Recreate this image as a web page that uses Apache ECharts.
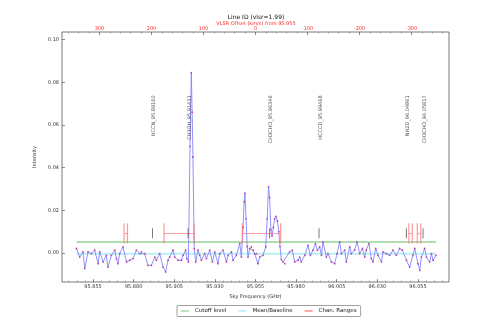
<!DOCTYPE html>
<html><head><meta charset="utf-8">
<script src="https://cdn.jsdelivr.net/npm/echarts@6/dist/echarts.min.js"></script>
<style>html,body{margin:0;padding:0;background:#fff}#chart{width:498px;height:332px}</style>
</head><body><div id="chart"></div>
<script>
// Spectrum channels: sky frequency (GHz) and intensity
const freqs = [
  95.8448,95.8468,95.8488,95.8499,95.8519,95.8540,95.8560,95.8581,95.8591,95.8612,
  95.8632,95.8642,95.8663,95.8684,95.8694,95.8704,95.8714,95.8735,95.8756,95.8776,
  95.8796,95.8817,95.8837,95.8848,95.8868,95.8888,95.8909,95.8930,95.8940,95.8960,
  95.8981,95.8997,95.9012,95.9022,95.9042,95.9053,95.9073,95.9094,95.9104,95.9120,
  95.9128,95.9137,95.9147,95.9155,95.9160,95.9165,95.9173,95.9182,95.9196,95.9207,
  95.9217,95.9237,95.9248,95.9268,95.9285,95.9299,95.9319,95.9330,95.9350,95.9371,
  95.9381,95.9402,95.9412,95.9432,95.9453,95.9463,95.9473,95.9480,95.9485,95.9492,
  95.9499,95.9504,95.9514,95.9525,95.9535,95.9545,95.9556,95.9565,95.9576,95.9596,
  95.9613,95.9622,95.9630,95.9637,95.9645,95.9652,95.9660,95.9668,95.9676,95.9685,
  95.9693,95.9701,95.9709,95.9719,95.9730,95.9760,95.9777,95.9791,95.9812,95.9822,
  95.9832,95.9853,95.9873,95.9888,95.9904,95.9919,95.9931,95.9945,95.9956,95.9965,
  95.9986,95.9996,96.0017,96.0037,96.0052,96.0068,96.0079,96.0099,96.0109,96.0130,
  96.0140,96.0160,96.0175,96.0191,96.0208,96.0222,96.0232,96.0248,96.0263,96.0273,
  96.0290,96.0304,96.0325,96.0335,96.0356,96.0376,96.0396,96.0417,96.0437,96.0454,
  96.0479,96.0499,96.0519,96.0530,96.0550,96.0561,96.0571,96.0591,96.0602,96.0622,
  96.0633,96.0643,96.0661
];
const intensity = [
  0.0021,-0.0019,0.0005,-0.0073,0.0005,-0.0003,0.0013,-0.0050,0.0005,-0.0042,
  -0.0011,-0.0066,-0.0011,0.0013,-0.0026,-0.0050,-0.0003,0.0028,-0.0042,-0.0034,
  -0.0026,0.0013,-0.0003,0.0005,-0.0003,-0.0058,-0.0058,-0.0019,-0.0034,-0.0003,
  -0.0066,-0.0089,-0.0034,-0.0019,0.0013,-0.0019,-0.0034,-0.0034,-0.0011,0.0013,
  -0.0026,-0.0042,0.0500,0.0845,0.0660,0.0450,0.0020,-0.0042,0.0013,-0.0011,
  -0.0034,-0.0003,-0.0026,0.0013,-0.0042,0.0005,-0.0050,-0.0003,0.0013,-0.0042,
  -0.0011,0.0005,-0.0034,-0.0011,0.0044,-0.0019,0.0120,0.0240,0.0280,0.0160,
  0.0030,-0.0019,0.0021,0.0028,0.0013,-0.0003,-0.0003,-0.0050,-0.0019,-0.0011,
  0.0028,0.0160,0.0310,0.0260,0.0110,0.0080,0.0120,0.0160,0.0172,0.0150,
  0.0100,0.0030,-0.0030,-0.0042,-0.0050,0.0005,0.0013,-0.0042,-0.0034,-0.0019,
  -0.0042,-0.0011,0.0036,-0.0011,0.0013,0.0044,0.0013,0.0028,-0.0011,0.0052,
  -0.0019,-0.0003,-0.0042,-0.0050,-0.0003,0.0052,-0.0003,0.0013,-0.0042,0.0028,
  -0.0003,0.0013,0.0052,-0.0003,0.0021,-0.0019,0.0013,0.0044,-0.0026,-0.0042,
  0.0021,-0.0011,-0.0042,0.0005,-0.0003,-0.0011,0.0013,-0.0011,0.0021,0.0013,
  -0.0034,-0.0066,-0.0011,0.0021,-0.0050,-0.0081,-0.0019,0.0021,-0.0019,-0.0042,
  -0.0003,-0.0034,-0.0011
];

// Detection levels
const cutoffLevel = 0.0052;
const baselineLevel = -0.0003;

// Channel ranges [start, end] in GHz, drawn as bracket bars
const chanRanges = [
  [95.8741, 95.8762], [95.8987, 95.9172], [95.9469, 95.9705],
  [96.0494, 96.0515], [96.0546, 96.0567]
];
const rangeLevel = 0.0091, rangeLow = 0.0045, rangeHigh = 0.0139;

// Identified lines
const lineIdFreqs = [95.8916, 95.9135, 95.9637, 95.9941, 96.0479, 96.0581];
const lineIdNames = ['HCCN_95.89160', 'CH3OH_95.91431', 'CH3CHO_95.96346',
                     'HCCCD_95.99468', 'NH2D_96.04861', 'CH3CHO_96.05817'];
const lineTickLow = 0.0069, lineTickHigh = 0.0116, lineLabelLevel = 0.0739;

// Axis ticks
const freqTicks = [95.855, 95.880, 95.905, 95.930, 95.955, 95.980, 96.005, 96.030, 96.055];
const velTicks = [-300, -200, -100, 0, 100, 200, 300];
const intensityTicks = [0, 0.02, 0.04, 0.06, 0.08, 0.10];

const restFreq = 95.955;
const vlsr = 1.99;
const C_KMS = 299792.458;
const freqMin = 95.8359, freqMax = 96.0741;
const yMin = -0.0136, yMax = 0.1036;

const velAtMin = C_KMS * (restFreq - freqMin) / restFreq;
const velAtMax = C_KMS * (restFreq - freqMax) / restFreq;

const freqMinor = [];
for (let k = 0; k <= 46; k++) freqMinor.push(+(95.840 + k * 0.005).toFixed(3));
const velMinor = [];
for (let v = -360; v <= 360; v += 20) velMinor.push(v);

const FONT = 'DejaVu Sans';
const spectrum = freqs.map((f, i) => [f, intensity[i]]);
const fFirst = freqs[0], fLast = freqs[freqs.length - 1];

const chart = echarts.init(document.getElementById('chart'), null, {renderer: 'canvas'});

const tinyLabel = {fontSize: 5, fontFamily: FONT, color: '#333'};
const noLine = {show: false, onZero: false};

chart.setOption({
  animation: false,
  backgroundColor: '#fff',
  textStyle: {fontFamily: FONT},
  title: [
    {text: 'Line ID (vlsr=' + vlsr + ')', left: 256, top: 14, padding: 0, textAlign: 'center',
     textStyle: {fontSize: 6, fontWeight: 'normal', color: '#111', fontFamily: FONT}},
    {text: 'VLSR Offset (km/s) from ' + restFreq, left: 256, top: 21.3, padding: 0, textAlign: 'center',
     textStyle: {fontSize: 5, fontWeight: 'normal', color: '#ff2a2a', fontFamily: FONT}}
  ],
  legend: {
    data: ['Cutoff level', 'Mean/Baseline', 'Chan. Ranges'],
    left: 177, top: 305.5, padding: [2.5, 4, 2.5, 4],
    itemWidth: 8, itemHeight: 1.5, itemGap: 12, icon: 'rect',
    borderColor: '#888', borderWidth: 0.8, borderRadius: 1,
    textStyle: {fontSize: 5.5, fontFamily: FONT, color: '#222', padding: [0, 0, 0, 1]}
  },
  grid: {left: 62, right: 49, top: 32, bottom: 50, show: true,
         borderColor: '#555', borderWidth: 0.8, backgroundColor: 'transparent'},
  xAxis: [
    {type: 'value', position: 'bottom', min: freqMin, max: freqMax,
     name: 'Sky Frequency (GHz)', nameLocation: 'middle', nameGap: 8,
     nameTextStyle: tinyLabel,
     axisLine: noLine,
     axisTick: {show: true, inside: true, length: 3, customValues: freqTicks, lineStyle: {color: '#444', width: 0.6}},
     axisLabel: {show: true, customValues: freqTicks, margin: 2.5, formatter: v => v.toFixed(3), ...tinyLabel},
     splitLine: {show: false}},
    {type: 'value', position: 'bottom', min: freqMin, max: freqMax,
     axisLine: noLine, axisLabel: {show: false}, splitLine: {show: false},
     axisTick: {show: true, inside: true, length: 1.5, customValues: freqMinor, lineStyle: {color: '#666', width: 0.5}}},
    {type: 'value', position: 'top', min: velAtMax, max: velAtMin, inverse: true,
     axisLine: noLine, splitLine: {show: false},
     axisTick: {show: true, inside: true, length: 3, customValues: velTicks, lineStyle: {color: '#444', width: 0.6}},
     axisLabel: {show: true, customValues: velTicks, margin: 1.2, fontSize: 5, fontFamily: FONT, color: '#ff2a2a'}},
    {type: 'value', position: 'top', min: velAtMax, max: velAtMin, inverse: true,
     axisLine: noLine, axisLabel: {show: false}, splitLine: {show: false},
     axisTick: {show: true, inside: true, length: 1.5, customValues: velMinor, lineStyle: {color: '#666', width: 0.5}}}
  ],
  yAxis: [
    {type: 'value', position: 'left', min: yMin, max: yMax,
     name: 'Intensity', nameLocation: 'middle', nameGap: 15, nameRotate: 90,
     nameTextStyle: tinyLabel,
     axisLine: noLine,
     axisTick: {show: true, inside: true, length: 3, customValues: intensityTicks, lineStyle: {color: '#444', width: 0.6}},
     axisLabel: {show: true, customValues: intensityTicks, margin: 3, formatter: v => v.toFixed(2), ...tinyLabel},
     splitLine: {show: false}}
  ],
  series: [
    {name: 'Cutoff level', type: 'line', symbol: 'none', z: 1,
     data: [[fFirst, cutoffLevel], [fLast, cutoffLevel]],
     itemStyle: {color: '#a6dca6'}, lineStyle: {color: '#a6dca6', width: 2, opacity: 0.9}},
    {name: 'Mean/Baseline', type: 'line', symbol: 'none', z: 1,
     data: [[fFirst, baselineLevel], [fLast, baselineLevel]],
     itemStyle: {color: '#b0eef4'}, lineStyle: {color: '#b0eef4', width: 2, opacity: 0.9}},
    {name: 'Spectrum', type: 'line', z: 3, data: spectrum,
     symbol: 'circle', symbolSize: 1.8, showSymbol: true,
     lineStyle: {color: '#8484ff', width: 0.9},
     itemStyle: {color: '#c040a8', borderWidth: 0}},
    {name: 'Chan. Ranges', type: 'custom', z: 4,
     data: chanRanges.map(r => [r[0], r[1], rangeLevel]),
     encode: {x: [0, 1], y: 2},
     itemStyle: {color: '#ff8a8a'},
     renderItem: function (params, api) {
       const f1 = api.value(0), f2 = api.value(1);
       const a = api.coord([f1, rangeLevel]), b = api.coord([f2, rangeLevel]);
       const a1 = api.coord([f1, rangeLow]), a2 = api.coord([f1, rangeHigh]);
       const b1 = api.coord([f2, rangeLow]), b2 = api.coord([f2, rangeHigh]);
       const st = {stroke: 'rgba(255,110,110,0.7)', lineWidth: 1.2};
       return {type: 'group', children: [
         {type: 'line', shape: {x1: a[0], y1: a[1], x2: b[0], y2: b[1]}, style: {stroke: 'rgba(255,110,110,0.85)', lineWidth: 0.8}},
         {type: 'line', shape: {x1: a1[0], y1: a1[1], x2: a2[0], y2: a2[1]}, style: st},
         {type: 'line', shape: {x1: b1[0], y1: b1[1], x2: b2[0], y2: b2[1]}, style: st}
       ]};
     }},
    {name: 'Line markers', type: 'custom', z: 4,
     data: lineIdFreqs.map(f => [f, lineTickLow]),
     encode: {x: 0, y: 1},
     renderItem: function (params, api) {
       const p1 = api.coord([api.value(0), lineTickLow]);
       const p2 = api.coord([api.value(0), lineTickHigh]);
       return {type: 'line', shape: {x1: p1[0], y1: p1[1], x2: p2[0], y2: p2[1]},
               style: {stroke: '#555', lineWidth: 0.8}};
     }},
    {name: 'Line names', type: 'scatter', z: 5, symbolSize: 0, silent: true,
     data: lineIdFreqs.map((f, i) => ({value: [f, lineLabelLevel], name: lineIdNames[i]})),
     label: {show: true, formatter: p => p.name, rotate: 90, position: [1.5, 0],
             align: 'right', verticalAlign: 'middle',
             fontSize: 5, fontFamily: FONT, color: '#222'}}
  ]
});
</script></body></html>
